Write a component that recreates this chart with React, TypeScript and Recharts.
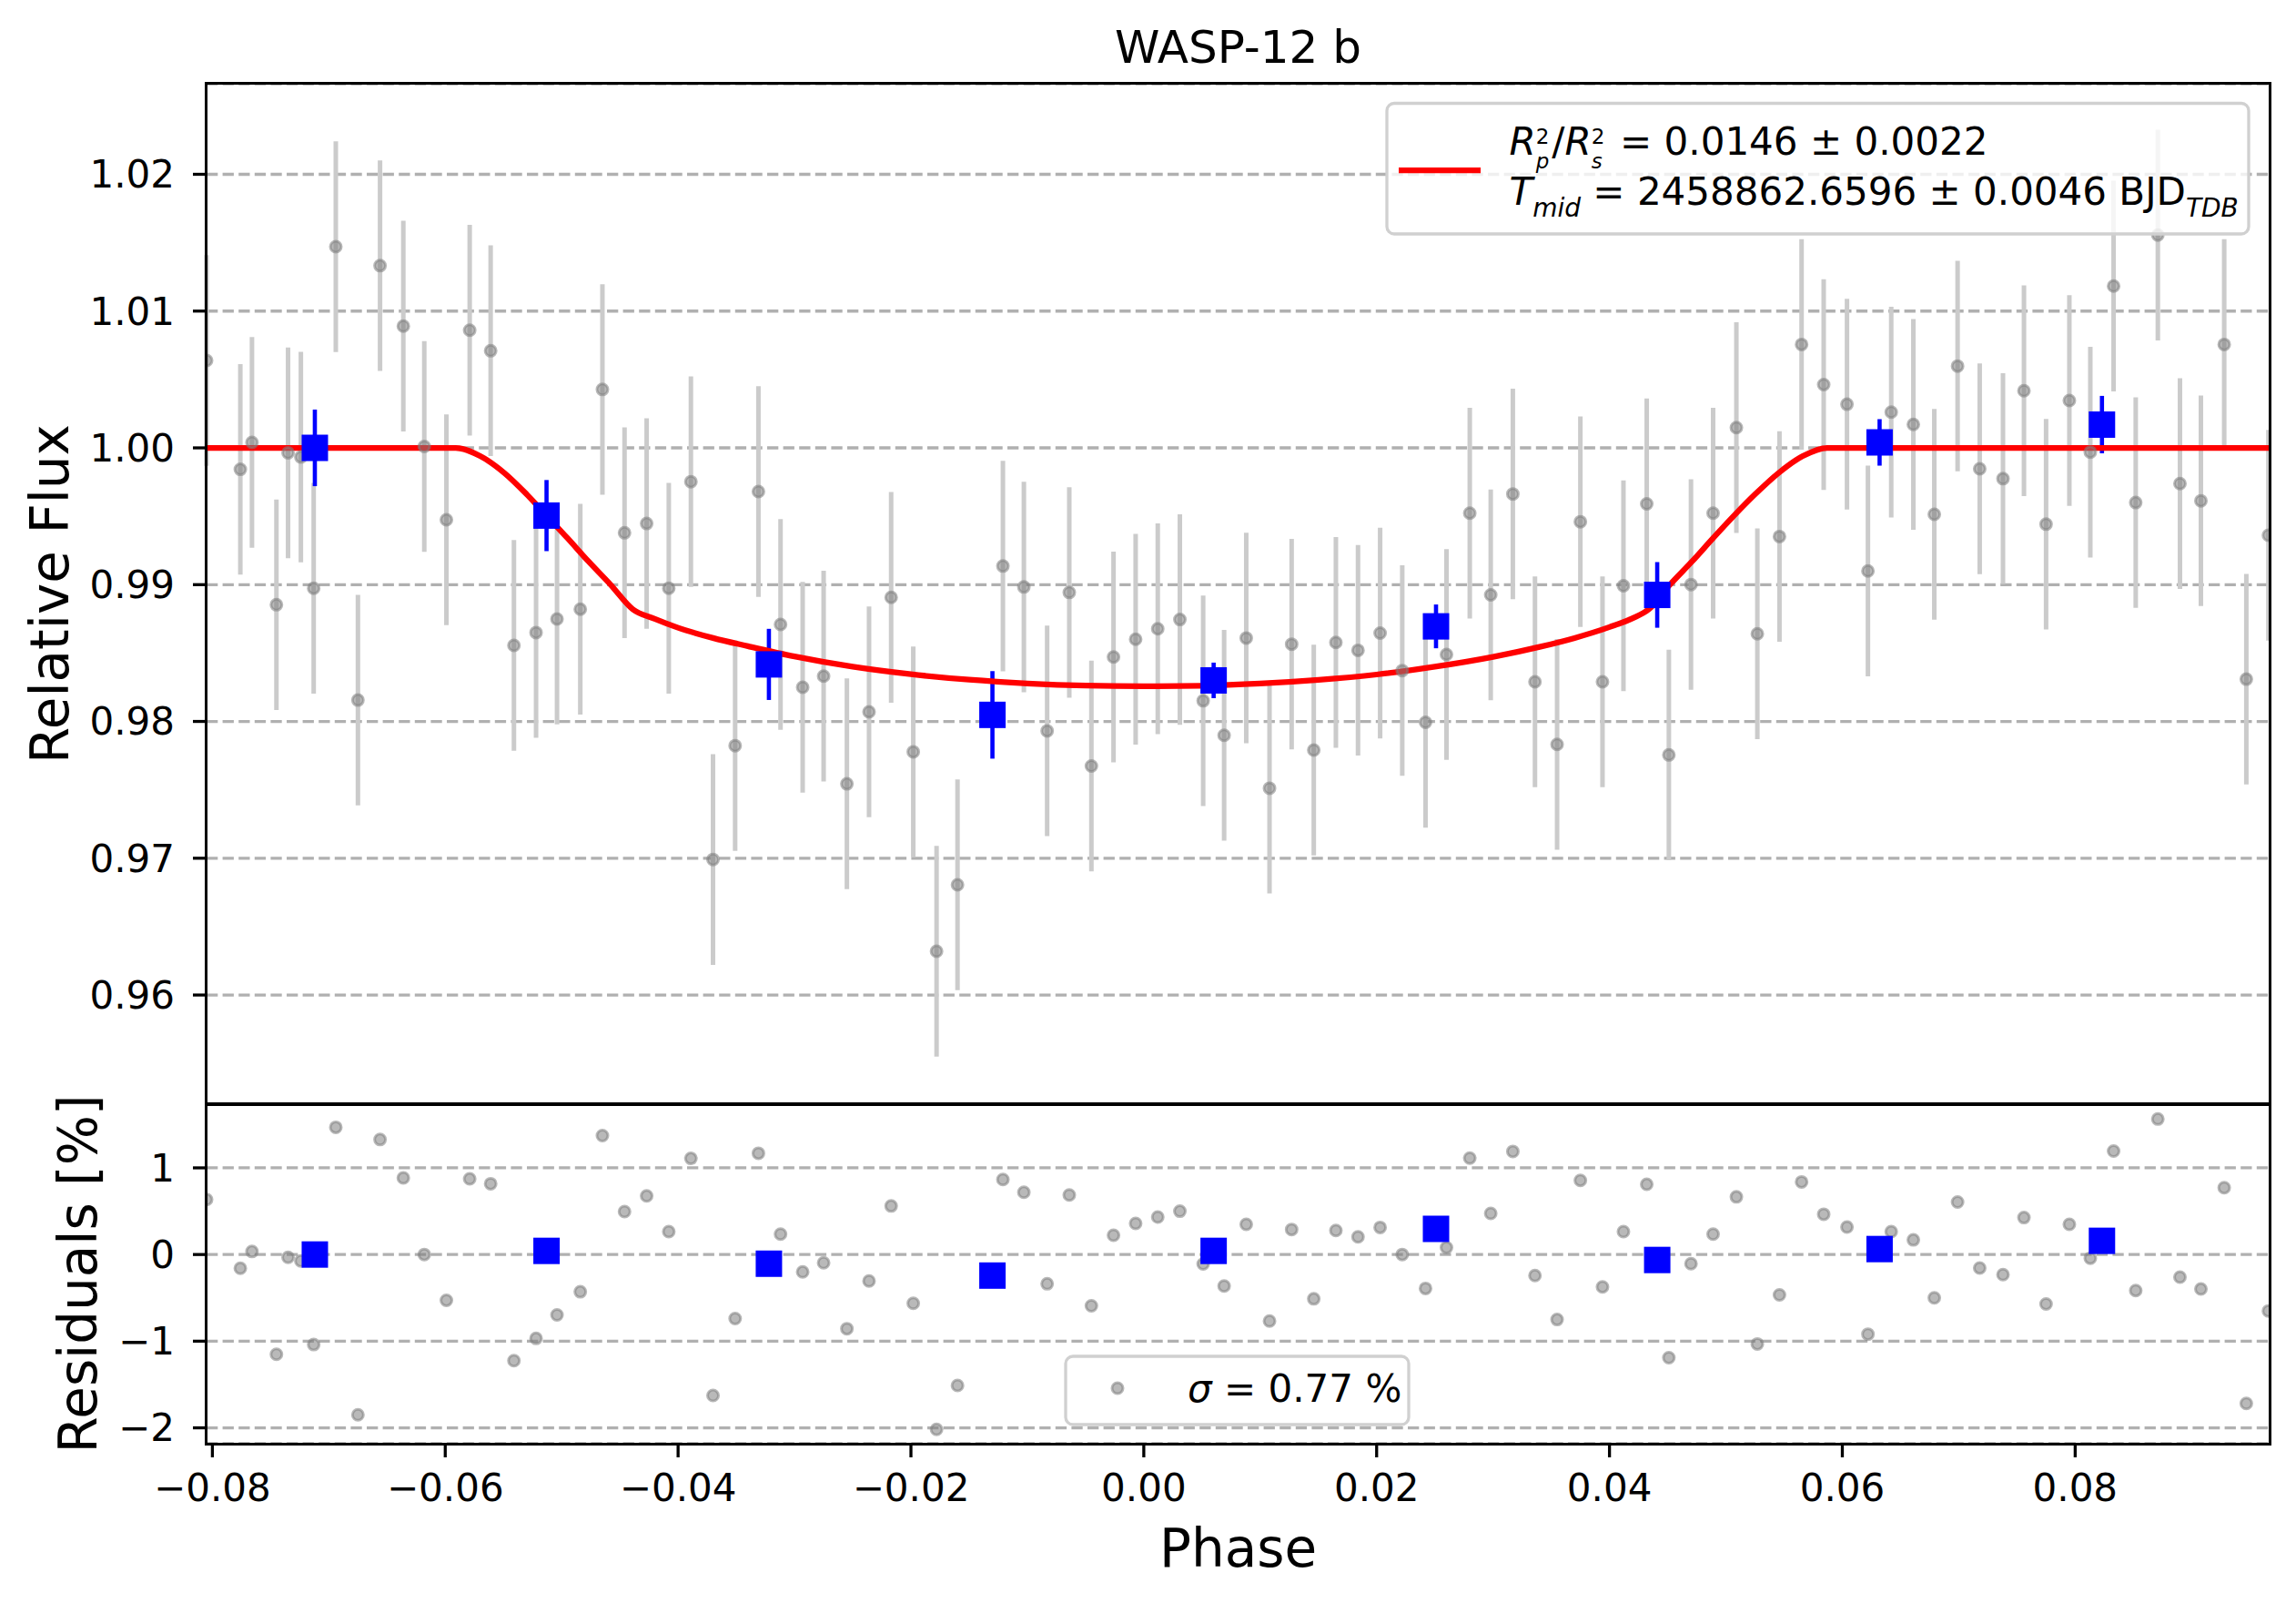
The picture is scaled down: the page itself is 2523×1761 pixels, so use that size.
import React from 'react';
import { ComposedChart, Scatter, Line, XAxis, YAxis, CartesianGrid, ErrorBar } from 'recharts';

const FONT = 'DejaVu Sans';

// phase of each exposure
const phases = [
  -0.0805, -0.0776, -0.0766, -0.0745, -0.0735, -0.0724, -0.0713, -0.0694, -0.0675, -0.0656,
  -0.0636, -0.0618, -0.0599, -0.0579, -0.0561, -0.0541, -0.0522, -0.0504, -0.0484, -0.0465,
  -0.0446, -0.0427, -0.0408, -0.0389, -0.037, -0.0351, -0.0331, -0.0312, -0.0293, -0.0275,
  -0.0255, -0.0236, -0.0217, -0.0198, -0.0178, -0.016, -0.0121, -0.0103, -0.0083, -0.0064,
  -0.0045, -0.0026, -0.0007, 0.0012, 0.0031, 0.0051, 0.0069, 0.0088, 0.0108, 0.0127,
  0.0146, 0.0165, 0.0184, 0.0203, 0.0222, 0.0242, 0.026, 0.028, 0.0298, 0.0317,
  0.0336, 0.0355, 0.0375, 0.0394, 0.0412, 0.0432, 0.0451, 0.047, 0.0489, 0.0509,
  0.0527, 0.0546, 0.0565, 0.0584, 0.0604, 0.0622, 0.0642, 0.0661, 0.0679, 0.0699,
  0.0718, 0.0738, 0.0756, 0.0775, 0.0795, 0.0813, 0.0833, 0.0852, 0.0871, 0.089,
  0.0908, 0.0928, 0.0947, 0.0966,
];

const fluxes = [
  1.00639, 0.99843, 1.0004, 0.98853, 0.99964, 0.99933, 0.98974, 1.01471, 0.98156, 1.01332,
  1.0089, 1.0001, 0.99474, 1.0086, 1.0071, 0.98556, 0.9865, 0.98749, 0.98821, 1.00427,
  0.99379, 0.99447, 0.98974, 0.99753, 0.96991, 0.97823, 0.99681, 0.98709, 0.9825, 0.98331,
  0.97544, 0.9807, 0.98907, 0.97778, 0.9632, 0.96806, 0.99136, 0.98983, 0.97931, 0.98943,
  0.97674, 0.98471, 0.98601, 0.98677, 0.98745, 0.98151, 0.97899, 0.9861, 0.97512, 0.98565,
  0.97791, 0.98578, 0.9852, 0.98646, 0.98372, 0.97994, 0.98489, 0.99523, 0.98925, 0.99663,
  0.9829, 0.97832, 0.9946, 0.9829, 0.98992, 0.99591, 0.97755, 0.99001, 0.99523, 1.00148,
  0.98641, 0.99352, 1.00756, 1.00463, 1.00319, 0.991, 1.00261, 1.00171, 0.99514, 1.00598,
  0.99847, 0.99775, 1.00418, 0.99442, 1.00346, 0.99969, 1.01183, 0.996, 1.01556, 0.99739,
  0.99613, 1.00756, 0.98309, 0.99361,
];

const FLUX_ERR = 0.0077;

// residuals in percent
const residuals = [
  0.634, -0.158, 0.035, -1.151, -0.032, -0.074, -1.039, 1.468, -1.849, 1.327,
  0.884, 0.0, -0.528, 0.873, 0.817, -1.225, -0.968, -0.697, -0.43, 1.373,
  0.496, 0.676, 0.264, 1.109, -1.627, -0.739, 1.169, 0.236, -0.201, -0.095,
  -0.856, -0.306, 0.56, -0.563, -2.018, -1.511, 0.866, 0.718, -0.338, 0.687,
  -0.592, 0.222, 0.359, 0.433, 0.5, -0.109, -0.363, 0.349, -0.768, 0.289,
  -0.511, 0.278, 0.204, 0.313, 0.0, -0.391, 0.081, 1.113, 0.475, 1.19,
  -0.243, -0.75, 0.856, -0.373, 0.264, 0.81, -1.19, -0.106, 0.236, 0.665,
  -1.032, -0.465, 0.838, 0.465, 0.317, -0.919, 0.264, 0.169, -0.5, 0.606,
  -0.155, -0.232, 0.426, -0.57, 0.349, -0.042, 1.194, -0.415, 1.563, -0.261,
  -0.398, 0.771, -1.718, -0.651,
];

// binned points
const binPhases = [-0.0712, -0.0513, -0.0322, -0.013, 0.006, 0.0251, 0.0441, 0.0632, 0.0823];
const binFluxes = [1.0, 0.99505, 0.98417, 0.98048, 0.983, 0.98695, 0.98925, 1.0004, 1.0017];
const binErrs = [0.0028, 0.0026, 0.0026, 0.0032, 0.0013, 0.0016, 0.0024, 0.0017, 0.0021];
const binResiduals = [0.0, 0.042, -0.106, -0.243, 0.042, 0.296, -0.063, 0.063, 0.158];

// transit model
const modelPhases = [
  -0.0805, -0.0591, -0.057, -0.0549, -0.053, -0.0513, -0.0495, -0.0477, -0.0458, -0.0439,
  -0.042, -0.04, -0.037, -0.034, -0.03, -0.025, -0.02, -0.015, -0.01, -0.005,
  0.0, 0.005, 0.01, 0.015, 0.02, 0.025, 0.03, 0.034, 0.037, 0.04,
  0.042, 0.0434, 0.0452, 0.0471, 0.0489, 0.0507, 0.0525, 0.0545, 0.0566, 0.0587,
  0.0967,
];
const modelFluxes = [
  1.0, 1.0, 0.9994, 0.99815, 0.9966, 0.99505, 0.9934, 0.9917, 0.99, 0.98821,
  0.9875, 0.98685, 0.9861, 0.9855, 0.98475, 0.984, 0.98345, 0.98305, 0.98278, 0.98262,
  0.98257, 0.98261, 0.98277, 0.98304, 0.98343, 0.984, 0.98472, 0.98545, 0.9861, 0.9869,
  0.98755, 0.98821, 0.99, 0.9917, 0.9934, 0.99505, 0.9966, 0.99815, 0.9994, 1.0,
  1.0,
];

const xTicks = [-0.08, -0.06, -0.04, -0.02, 0, 0.02, 0.04, 0.06, 0.08];
const fluxTicks = [0.96, 0.97, 0.98, 0.99, 1.0, 1.01, 1.02];
const residualTicks = [-2, -1, 0, 1];

const X_DOMAIN = [-0.0805, 0.0967];
const FLUX_DOMAIN = [0.95202, 1.02662];
const RES_DOMAIN = [-2.183, 1.735];

const pointData = phases.map((x, i) => ({ x, y: fluxes[i], err: FLUX_ERR }));
const residualData = phases.map((x, i) => ({ x, y: residuals[i] }));
const binData = binPhases.map((x, i) => ({ x, y: binFluxes[i], err: binErrs[i] }));
const binResidualData = binPhases.map((x, i) => ({ x, y: binResiduals[i] }));
const modelData = modelPhases.map((x, i) => ({ x, y: modelFluxes[i] }));

const minus = (s: string) => s.replace('-', '\u2212');

const GrayDot = (p: any) => (
  <circle cx={p.cx} cy={p.cy} r={6} fill="#808080" fillOpacity={0.55}
    stroke="#808080" strokeOpacity={0.55} strokeWidth={3} />
);

const BlueSquare = (p: any) => (
  <rect x={p.cx - 14.5} y={p.cy - 14.5} width={29} height={29} fill="#0000ff" />
);

const tickStyle = { fontSize: 42, fill: '#000', fontFamily: FONT };
const tickLine = { stroke: '#000', strokeWidth: 3.3 };
const gridProps = { vertical: false, stroke: '#b0b0b0', strokeWidth: 3.3, strokeDasharray: '12.3 5.3' };

const frame = (top: number, bottom: number): React.CSSProperties => ({
  position: 'absolute',
  left: 225.35,
  top: top - 1.65,
  width: 2494 - 227 + 3.3,
  height: bottom - top + 3.3,
  border: '3.3px solid #000',
  boxSizing: 'border-box',
  pointerEvents: 'none',
});

export default function App() {
  return (
    <div style={{ position: 'absolute', left: 0, top: 0, width: 2523, height: 1761, background: '#fff', fontFamily: FONT }}>
      <div style={{ position: 'absolute', left: 0, top: 0 }}>
        <ComposedChart width={2523} height={1213} margin={{ top: 92, right: 29, bottom: 0, left: 0 }}>
          <CartesianGrid {...gridProps} />
          <XAxis type="number" dataKey="x" domain={X_DOMAIN} ticks={xTicks} allowDataOverflow hide height={0} />
          <YAxis type="number" dataKey="y" domain={FLUX_DOMAIN} ticks={fluxTicks} allowDataOverflow interval={0}
            width={227} tickSize={15} tickMargin={20} tick={tickStyle} tickLine={tickLine} axisLine={false}
            tickFormatter={(v: number) => v.toFixed(2)} />
          <Scatter data={pointData} dataKey="y" shape={GrayDot} isAnimationActive={false}>
            <ErrorBar dataKey="err" direction="y" width={0} stroke="#cbcbcb" strokeWidth={5} />
          </Scatter>
          <Scatter data={binData} dataKey="y" shape={BlueSquare} isAnimationActive={false}>
            <ErrorBar dataKey="err" direction="y" width={0} stroke="#0000ff" strokeWidth={4.6} />
          </Scatter>
          <Line data={modelData} dataKey="y" type="monotone" stroke="#ff0000" strokeWidth={6.25}
            dot={false} activeDot={false} isAnimationActive={false} />
        </ComposedChart>
      </div>

      <div style={{ position: 'absolute', left: 0, top: 1180 }}>
        <ComposedChart width={2523} height={581} margin={{ top: 33, right: 29, bottom: 0, left: 0 }}>
          <CartesianGrid {...gridProps} />
          <XAxis type="number" dataKey="x" domain={X_DOMAIN} ticks={xTicks} allowDataOverflow interval={0}
            height={175} tickSize={15} tickMargin={18} tick={tickStyle} tickLine={tickLine} axisLine={false}
            tickFormatter={(v: number) => minus(v.toFixed(2))} />
          <YAxis type="number" dataKey="y" domain={RES_DOMAIN} ticks={residualTicks} allowDataOverflow interval={0}
            width={227} tickSize={15} tickMargin={20} tick={tickStyle} tickLine={tickLine} axisLine={false}
            tickFormatter={(v: number) => minus(String(v))} />
          <Scatter data={residualData} dataKey="y" shape={GrayDot} isAnimationActive={false} />
          <Scatter data={binResidualData} dataKey="y" shape={BlueSquare} isAnimationActive={false} />
        </ComposedChart>
      </div>

      <div style={frame(92, 1213)} />
      <div style={frame(1213, 1586)} />

      <svg width={2523} height={1761} style={{ position: 'absolute', left: 0, top: 0, pointerEvents: 'none' }}
        fontFamily={FONT}>
        <text x={1360.5} y={69} fontSize={50} textAnchor="middle">WASP-12 b</text>
        <text transform="translate(75,652.5) rotate(-90)" fontSize={58} textAnchor="middle">Relative Flux</text>
        <text transform="translate(106,1399.5) rotate(-90)" fontSize={58} textAnchor="middle">Residuals [%]</text>
        <text x={1360.5} y={1721} fontSize={58} textAnchor="middle">Phase</text>

        {/* fit legend */}
        <rect x={1524} y={113.5} width={947} height={143.5} rx={8} fill="#fff" fillOpacity={0.8}
          stroke="#d0d0d0" strokeWidth={3.3} />
        <line x1={1537} x2={1627} y1={187} y2={187} stroke="#ff0000" strokeWidth={6.25} />
        <text x={1658.5} y={170} fontSize={42}>
          <tspan fontStyle="italic">R</tspan>
          <tspan fontSize={23} dy={-12}>2</tspan>
          <tspan fontSize={23} fontStyle="italic" dx={-14.6} dy={27}>p</tspan>
          <tspan dy={-15} dx={3}>/</tspan>
          <tspan fontStyle="italic">R</tspan>
          <tspan fontSize={23} dy={-12}>2</tspan>
          <tspan fontSize={23} fontStyle="italic" dx={-14.6} dy={27}>s</tspan>
          <tspan dy={-15} dx={6}> = 0.0146 ± 0.0022</tspan>
        </text>
        <text x={1658.5} y={224.5} fontSize={42}>
          <tspan fontStyle="italic">T</tspan>
          <tspan fontSize={28} fontStyle="italic" dy={13}>mid</tspan>
          <tspan dy={-13}> = 2458862.6596 ± 0.0046 BJD</tspan>
          <tspan fontSize={28} fontStyle="italic" dy={13}>TDB</tspan>
        </text>

        {/* residual legend */}
        <rect x={1171} y={1490} width={377} height={75} rx={8} fill="#fff" fillOpacity={0.8}
          stroke="#d0d0d0" strokeWidth={3.3} />
        <circle cx={1228} cy={1525} r={6} fill="#808080" fillOpacity={0.55}
          stroke="#808080" strokeOpacity={0.55} strokeWidth={3} />
        <text x={1305} y={1540} fontSize={42}>
          <tspan fontStyle="italic">σ</tspan>
          <tspan> = 0.77 %</tspan>
        </text>
      </svg>
    </div>
  );
}
